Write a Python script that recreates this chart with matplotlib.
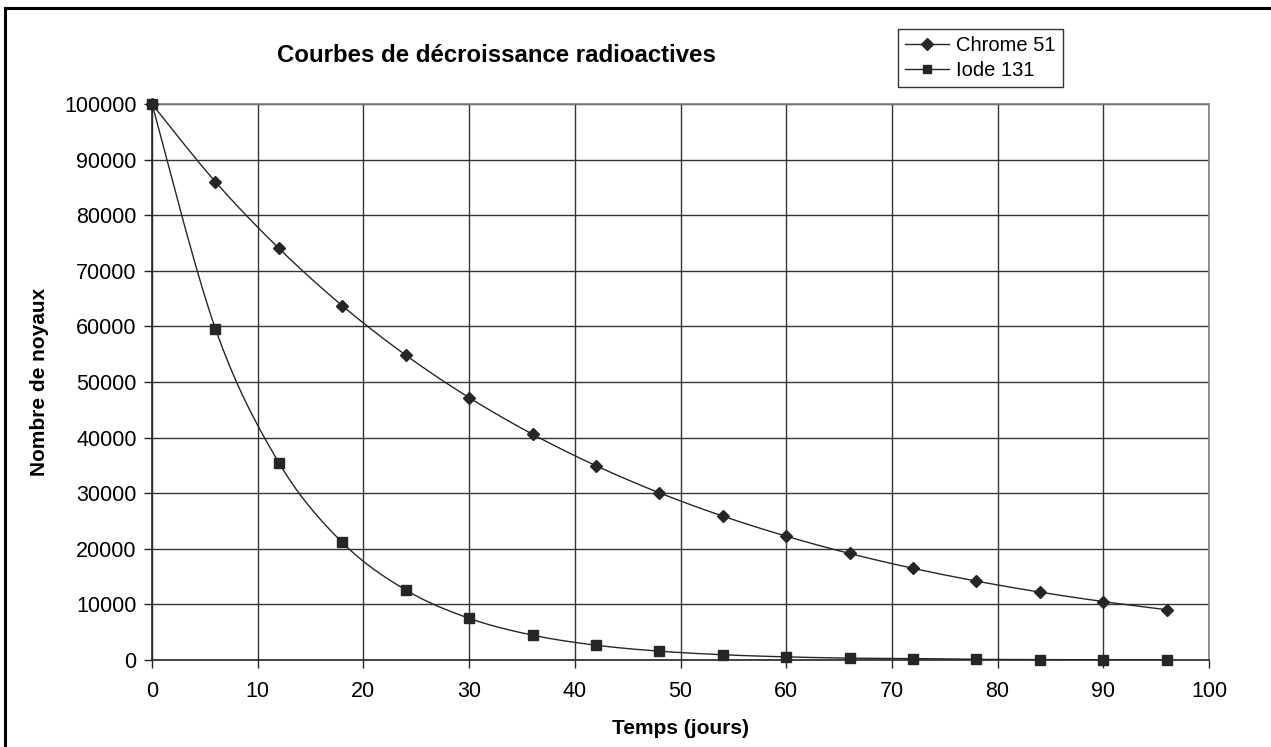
import matplotlib.pyplot as plt
import numpy as np
from matplotlib.lines import Line2D

plt.rcParams["font.family"] = ["Liberation Sans", "DejaVu Sans"]

# data (days, number of nuclei)
jours = [0, 6, 12, 18, 24, 30, 36, 42, 48, 54, 60, 66, 72, 78, 84, 90, 96]
chrome_51 = [100000, 86000, 74050, 63720, 54840, 47190, 40610, 34950, 30070,
             25880, 22270, 19160, 16490, 14190, 12210, 10510, 9040]
iode_131 = [100000, 59570, 35490, 21140, 12600, 7500, 4470, 2660, 1590,
            945, 563, 335, 260, 119, 71, 42, 25]

x_ticks = list(range(0, 101, 10))
y_ticks = list(range(0, 100001, 10000))

INK = "#262626"


def smooth(xs, ys, n=16):
    # Excel-like smoothed line (Bezier through the points)
    p = np.column_stack([xs, ys]).astype(float)
    out = [p[0]]
    t = np.linspace(0, 1, n + 1)[1:, None]
    for i in range(len(p) - 1):
        prev = p[i - 1] if i > 0 else p[i]
        nxt = p[i + 2] if i + 2 < len(p) else p[i + 1]
        c1 = p[i] + (p[i + 1] - prev) / 6
        c2 = p[i + 1] - (nxt - p[i]) / 6
        seg = ((1 - t) ** 3) * p[i] + 3 * ((1 - t) ** 2) * t * c1 \
            + 3 * (1 - t) * t ** 2 * c2 + t ** 3 * p[i + 1]
        out.extend(seg)
    out = np.array(out)
    return out[:, 0], out[:, 1]


fig = plt.figure(figsize=(12.71, 7.47), dpi=100)
ax = fig.add_axes([152 / 1271, 1 - 660 / 747, (1209 - 152) / 1271, (660 - 104) / 747])

for xs, ys, mk, ms in [(jours, chrome_51, "D", 6.5), (jours, iode_131, "s", 6.5)]:
    sx, sy = smooth(xs, ys)
    ax.plot(sx, sy, color=INK, linewidth=1.0, zorder=3)
    ax.plot(xs, ys, linestyle="none", marker=mk, markersize=ms, color=INK,
            zorder=4, clip_on=False)

ax.set_xlim(0, 100)
ax.set_ylim(0, 100000)
ax.set_xticks(x_ticks)
ax.set_yticks(y_ticks)
ax.tick_params(direction="out", length=6, width=1, color=INK, labelsize=15.5)
ax.tick_params(axis="x", pad=9)
ax.tick_params(axis="y", pad=5)
ax.grid(True, color="#333333", linewidth=1)
ax.set_axisbelow(True)
for side in ["left", "bottom"]:
    ax.spines[side].set_color(INK)
    ax.spines[side].set_linewidth(1.2)
for side in ["top", "right"]:
    ax.spines[side].set_color("#808080")
    ax.spines[side].set_linewidth(1.2)

ax.set_xlabel("Temps (jours)", fontsize=15, fontweight="bold", labelpad=12)
ax.set_ylabel("Nombre de noyaux", fontsize=15, fontweight="bold", labelpad=11)
fig.text(496 / 1271, 1 - 56 / 747, "Courbes de décroissance radioactives",
         ha="center", va="center", fontsize=17.3, fontweight="bold")

handles = [Line2D([], [], color=INK, linewidth=1.0, marker="D", markersize=6),
           Line2D([], [], color=INK, linewidth=1.0, marker="s", markersize=6)]
leg = fig.legend(handles, ["Chrome 51", "Iode 131"], loc="upper left",
                 bbox_to_anchor=(898 / 1271, 1 - 29 / 747), fontsize=14.5,
                 frameon=True, fancybox=False, edgecolor="black", borderpad=0.35,
                 handlelength=2.2, handletextpad=0.35, labelspacing=0.3,
                 borderaxespad=0)
leg.get_frame().set_linewidth(1)

# outer chart border (image is cropped on right and bottom)
fig.add_artist(Line2D([5 / 1271, 1.02], [1 - 8 / 747] * 2, color="black",
                      linewidth=2.2, transform=fig.transFigure))
fig.add_artist(Line2D([5 / 1271] * 2, [-0.02, 1 - 8 / 747], color="black",
                      linewidth=2.2, transform=fig.transFigure))

fig.savefig("out.png", dpi=100)
